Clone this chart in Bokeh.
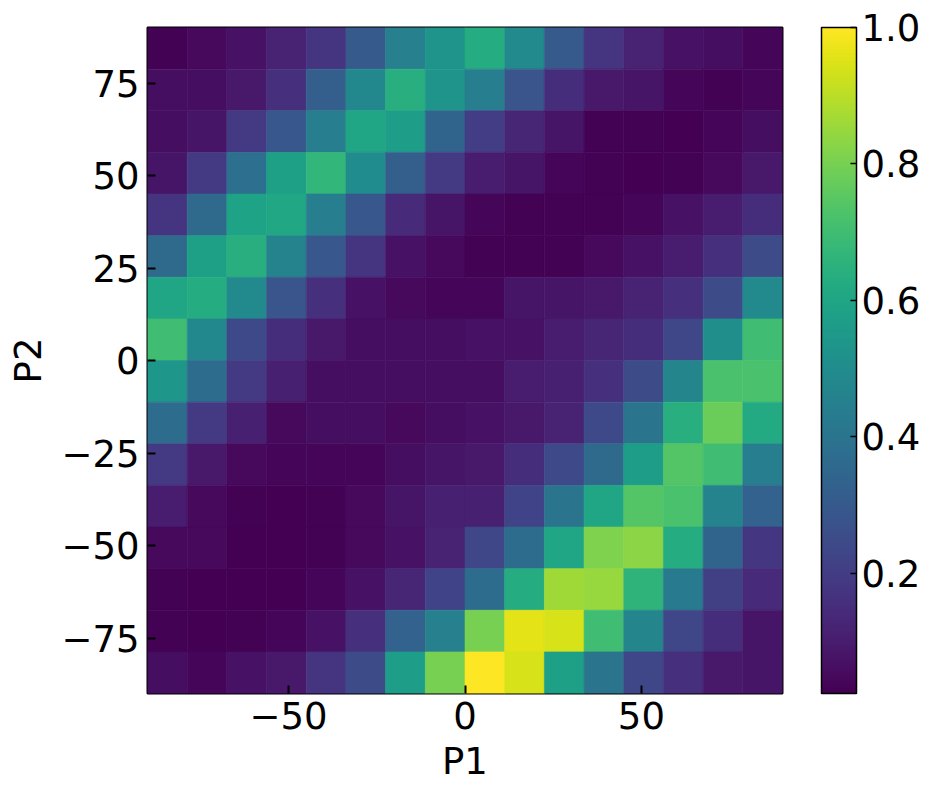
from bokeh.plotting import figure
from bokeh.models import (ColumnDataSource, LinearColorMapper, ColorBar, FixedTicker,
                          Range1d, PrintfTickFormatter)
from bokeh.palettes import Viridis256
from bokeh.embed import file_html
from bokeh.resources import INLINE

# bin centres along each axis
p1_centers = [-84.375, -73.125, -61.875, -50.625, -39.375, -28.125, -16.875, -5.625,
              5.625, 16.875, 28.125, 39.375, 50.625, 61.875, 73.125, 84.375]
p2_centers = [84.375, 73.125, 61.875, 50.625, 39.375, 28.125, 16.875, 5.625,
              -5.625, -16.875, -28.125, -39.375, -50.625, -61.875, -73.125, -84.375]
bin_size = 11.25

# rows from top (P2 = 84.4) to bottom (P2 = -84.4)
row_00 = [0.03, 0.05, 0.07, 0.12, 0.17, 0.30, 0.45, 0.53, 0.63, 0.49, 0.30, 0.17, 0.12, 0.07, 0.06, 0.04]
row_01 = [0.06, 0.06, 0.09, 0.16, 0.32, 0.48, 0.64, 0.53, 0.44, 0.28, 0.15, 0.09, 0.08, 0.04, 0.03, 0.04]
row_02 = [0.06, 0.08, 0.19, 0.29, 0.44, 0.60, 0.57, 0.34, 0.20, 0.13, 0.08, 0.03, 0.03, 0.024, 0.04, 0.06]
row_03 = [0.08, 0.19, 0.38, 0.58, 0.67, 0.50, 0.32, 0.19, 0.10, 0.08, 0.04, 0.03, 0.024, 0.03, 0.05, 0.09]
row_04 = [0.17, 0.36, 0.59, 0.61, 0.44, 0.29, 0.14, 0.08, 0.04, 0.03, 0.03, 0.03, 0.04, 0.07, 0.10, 0.15]
row_05 = [0.36, 0.58, 0.64, 0.46, 0.29, 0.17, 0.07, 0.05, 0.03, 0.03, 0.03, 0.05, 0.07, 0.10, 0.16, 0.25]
row_06 = [0.60, 0.63, 0.49, 0.28, 0.16, 0.07, 0.05, 0.04, 0.04, 0.08, 0.08, 0.09, 0.12, 0.16, 0.25, 0.49]
row_07 = [0.70, 0.48, 0.24, 0.15, 0.09, 0.06, 0.06, 0.06, 0.07, 0.07, 0.10, 0.13, 0.15, 0.23, 0.51, 0.70]
row_08 = [0.54, 0.37, 0.19, 0.11, 0.06, 0.06, 0.06, 0.06, 0.06, 0.10, 0.11, 0.16, 0.25, 0.47, 0.72, 0.72]
row_09 = [0.37, 0.19, 0.11, 0.05, 0.06, 0.06, 0.05, 0.06, 0.07, 0.09, 0.12, 0.24, 0.40, 0.64, 0.78, 0.62]
row_10 = [0.19, 0.09, 0.05, 0.04, 0.04, 0.04, 0.06, 0.08, 0.09, 0.15, 0.24, 0.36, 0.57, 0.74, 0.70, 0.44]
row_11 = [0.10, 0.05, 0.03, 0.024, 0.03, 0.05, 0.08, 0.11, 0.11, 0.22, 0.40, 0.60, 0.74, 0.72, 0.46, 0.33]
row_12 = [0.05, 0.05, 0.024, 0.024, 0.03, 0.05, 0.07, 0.12, 0.23, 0.37, 0.60, 0.81, 0.83, 0.63, 0.34, 0.18]
row_13 = [0.03, 0.024, 0.024, 0.024, 0.04, 0.07, 0.13, 0.22, 0.37, 0.63, 0.86, 0.85, 0.66, 0.43, 0.21, 0.14]
row_14 = [0.03, 0.024, 0.03, 0.04, 0.07, 0.16, 0.33, 0.45, 0.80, 0.96, 0.94, 0.70, 0.47, 0.23, 0.15, 0.08]
row_15 = [0.06, 0.04, 0.07, 0.09, 0.17, 0.25, 0.57, 0.80, 1.00, 0.94, 0.58, 0.40, 0.23, 0.16, 0.09, 0.08]
rows = [row_00, row_01, row_02, row_03, row_04, row_05, row_06, row_07,
        row_08, row_09, row_10, row_11, row_12, row_13, row_14, row_15]

x_ticks = [-50, 0, 50]
y_ticks = [-75, -50, -25, 0, 25, 50, 75]
cbar_ticks = [0.2, 0.4, 0.6, 0.8, 1.0]

xs, ys, vs = [], [], []
for yc, row in zip(p2_centers, rows):
    for xc, v in zip(p1_centers, row):
        xs.append(xc)
        ys.append(yc)
        vs.append(v)
src = ColumnDataSource(dict(x=xs, y=ys, v=vs))

vmin, vmax = min(vs), max(vs)
mapper = LinearColorMapper(palette=Viridis256, low=vmin, high=vmax)

FONT = "DejaVu Sans"
FS = "37px"

p = figure(output_backend="svg", toolbar_location=None,
           frame_width=635, frame_height=666,
           x_range=Range1d(-90, 90), y_range=Range1d(-90, 90),
           min_border_left=147, min_border_top=27, min_border_bottom=60,
           min_border_right=10)
p.rect(x="x", y="y", width=bin_size, height=bin_size, source=src,
       fill_color={"field": "v", "transform": mapper},
       line_color={"field": "v", "transform": mapper}, line_width=0.6)

p.grid.visible = False
p.outline_line_color = "black"
p.outline_line_width = 2
p.outline_line_alpha = 1.0

def minus(t):
    return str(t).replace("-", "\u2212")

for ax, ticks, lab in ((p.xaxis[0], x_ticks, "P1"), (p.yaxis[0], y_ticks, "P2")):
    ax.ticker = FixedTicker(ticks=ticks)
    ax.major_label_overrides = {t: minus(t) for t in ticks}
    ax.axis_label = lab
    ax.axis_label_text_font = FONT
    ax.axis_label_text_font_size = FS
    ax.axis_label_text_font_style = "normal"
    ax.major_label_text_font = FONT
    ax.major_label_text_font_size = FS
    ax.major_label_text_color = "black"
    ax.axis_label_text_color = "black"
    ax.axis_line_color = None
    ax.major_tick_in = 8
    ax.major_tick_out = 0
    ax.major_tick_line_width = 2
    ax.major_tick_line_color = "black"
    ax.minor_tick_line_color = None
    ax.major_label_standoff = 8
    ax.axis_label_standoff = 8

cb = ColorBar(color_mapper=mapper, width=35, height=666,
              ticker=FixedTicker(ticks=cbar_ticks),
              formatter=PrintfTickFormatter(format="%.1f"),
              major_label_text_font=FONT, major_label_text_font_size=FS,
              major_label_text_color="black",
              major_tick_in=6, major_tick_out=0, major_tick_line_color="black",
              major_tick_line_width=1.5,
              bar_line_color="black", bar_line_width=1.5,
              border_line_color=None, background_fill_color=None,
              label_standoff=5, margin=0, padding=0, location=(39, 0))
p.add_layout(cb, "right")

open("out.html", "w").write(file_html(p, INLINE))
